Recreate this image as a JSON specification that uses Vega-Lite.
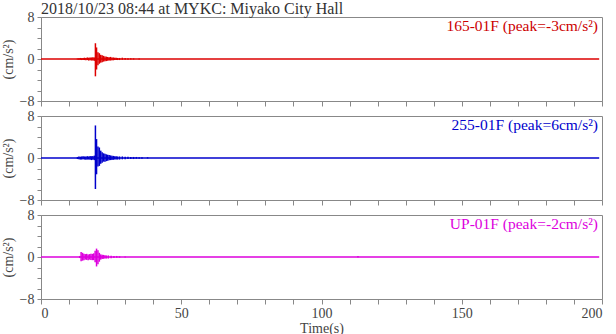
{
  "$schema": "https://vega.github.io/schema/vega-lite/v6.json",
  "padding": {"left": 0, "top": 0, "right": 3, "bottom": 2},
  "background": "white",
  "config": {
    "font": "Liberation Serif, serif",
    "view": {"stroke": "#888", "strokeWidth": 1},
    "axis": {"grid": false, "domainColor": "#888", "tickColor": "#888", "labelColor": "#444", "titleColor": "#444", "labelFont": "Liberation Serif, serif", "titleFont": "Liberation Serif, serif", "labelFontSize": 14, "titleFontSize": 14, "titleFontWeight": "normal", "labelOverlap": false}
  },
  "datasets": {
    "base": [
      {"ch": "165-01F", "t": 0, "t1": 199, "lo": 0},
      {"ch": "255-01F", "t": 0, "t1": 199, "lo": 0},
      {"ch": "UP-01F", "t": 0, "t1": 199, "lo": 0}
    ],
    "labels": [
      {"ch": "165-01F", "label": "165-01F (peak=-3cm/s²)"},
      {"ch": "255-01F", "label": "255-01F (peak=6cm/s²)"},
      {"ch": "UP-01F", "label": "UP-01F (peak=-2cm/s²)"}
    ],
    "env": [
      {"ch": "165-01F", "t": 13.0, "lo": -0.1, "hi": 0.1},
      {"ch": "165-01F", "t": 13.5, "lo": -0.15, "hi": 0.15},
      {"ch": "165-01F", "t": 14.0, "lo": -0.15, "hi": 0.2},
      {"ch": "165-01F", "t": 14.5, "lo": -0.2, "hi": 0.15},
      {"ch": "165-01F", "t": 15.0, "lo": -0.2, "hi": 0.2},
      {"ch": "165-01F", "t": 15.5, "lo": -0.2, "hi": 0.25},
      {"ch": "165-01F", "t": 16.0, "lo": -0.25, "hi": 0.2},
      {"ch": "165-01F", "t": 16.5, "lo": -0.2, "hi": 0.3},
      {"ch": "165-01F", "t": 17.0, "lo": -0.3, "hi": 0.25},
      {"ch": "165-01F", "t": 17.5, "lo": -0.25, "hi": 0.3},
      {"ch": "165-01F", "t": 18.0, "lo": -0.3, "hi": 0.3},
      {"ch": "165-01F", "t": 18.5, "lo": -0.3, "hi": 0.35},
      {"ch": "165-01F", "t": 19.0, "lo": -0.35, "hi": 0.3},
      {"ch": "165-01F", "t": 19.4, "lo": -3.3, "hi": 3.0},
      {"ch": "165-01F", "t": 19.8, "lo": -2.0, "hi": 2.2},
      {"ch": "165-01F", "t": 20.3, "lo": -1.2, "hi": 1.3},
      {"ch": "165-01F", "t": 20.8, "lo": -0.9, "hi": 1.1},
      {"ch": "165-01F", "t": 21.3, "lo": -0.7, "hi": 0.8},
      {"ch": "165-01F", "t": 21.8, "lo": -0.6, "hi": 0.7},
      {"ch": "165-01F", "t": 22.3, "lo": -0.5, "hi": 0.6},
      {"ch": "165-01F", "t": 22.8, "lo": -0.45, "hi": 0.5},
      {"ch": "165-01F", "t": 23.3, "lo": -0.4, "hi": 0.45},
      {"ch": "165-01F", "t": 23.8, "lo": -0.35, "hi": 0.4},
      {"ch": "165-01F", "t": 24.3, "lo": -0.3, "hi": 0.35},
      {"ch": "165-01F", "t": 24.8, "lo": -0.3, "hi": 0.4},
      {"ch": "165-01F", "t": 25.3, "lo": -0.25, "hi": 0.3},
      {"ch": "165-01F", "t": 25.8, "lo": -0.25, "hi": 0.3},
      {"ch": "165-01F", "t": 26.3, "lo": -0.2, "hi": 0.25},
      {"ch": "165-01F", "t": 26.8, "lo": -0.2, "hi": 0.25},
      {"ch": "165-01F", "t": 27.3, "lo": -0.2, "hi": 0.2},
      {"ch": "165-01F", "t": 28.0, "lo": -0.2, "hi": 0.2},
      {"ch": "165-01F", "t": 29.0, "lo": -0.15, "hi": 0.25},
      {"ch": "165-01F", "t": 30.0, "lo": -0.15, "hi": 0.2},
      {"ch": "165-01F", "t": 31.0, "lo": -0.15, "hi": 0.15},
      {"ch": "165-01F", "t": 32.0, "lo": -0.1, "hi": 0.15},
      {"ch": "165-01F", "t": 33.0, "lo": -0.1, "hi": 0.12},
      {"ch": "165-01F", "t": 35.0, "lo": -0.1, "hi": 0.1},
      {"ch": "255-01F", "t": 13.0, "lo": -0.2, "hi": 0.2},
      {"ch": "255-01F", "t": 13.5, "lo": -0.25, "hi": 0.3},
      {"ch": "255-01F", "t": 14.0, "lo": -0.3, "hi": 0.25},
      {"ch": "255-01F", "t": 14.5, "lo": -0.3, "hi": 0.3},
      {"ch": "255-01F", "t": 15.0, "lo": -0.25, "hi": 0.35},
      {"ch": "255-01F", "t": 15.5, "lo": -0.3, "hi": 0.3},
      {"ch": "255-01F", "t": 16.0, "lo": -0.35, "hi": 0.3},
      {"ch": "255-01F", "t": 16.5, "lo": -0.3, "hi": 0.35},
      {"ch": "255-01F", "t": 17.0, "lo": -0.3, "hi": 0.3},
      {"ch": "255-01F", "t": 17.5, "lo": -0.35, "hi": 0.4},
      {"ch": "255-01F", "t": 18.0, "lo": -0.4, "hi": 0.35},
      {"ch": "255-01F", "t": 18.5, "lo": -0.35, "hi": 0.4},
      {"ch": "255-01F", "t": 19.0, "lo": -0.4, "hi": 0.45},
      {"ch": "255-01F", "t": 19.4, "lo": -5.9, "hi": 6.2},
      {"ch": "255-01F", "t": 19.8, "lo": -3.1, "hi": 3.6},
      {"ch": "255-01F", "t": 20.3, "lo": -1.6, "hi": 2.2},
      {"ch": "255-01F", "t": 20.8, "lo": -1.5, "hi": 2.0},
      {"ch": "255-01F", "t": 21.3, "lo": -1.1, "hi": 1.4},
      {"ch": "255-01F", "t": 21.8, "lo": -0.9, "hi": 1.1},
      {"ch": "255-01F", "t": 22.3, "lo": -0.7, "hi": 0.9},
      {"ch": "255-01F", "t": 22.8, "lo": -0.7, "hi": 0.8},
      {"ch": "255-01F", "t": 23.3, "lo": -0.6, "hi": 0.7},
      {"ch": "255-01F", "t": 23.8, "lo": -0.5, "hi": 0.6},
      {"ch": "255-01F", "t": 24.3, "lo": -0.45, "hi": 0.55},
      {"ch": "255-01F", "t": 24.8, "lo": -0.4, "hi": 0.5},
      {"ch": "255-01F", "t": 25.3, "lo": -0.4, "hi": 0.45},
      {"ch": "255-01F", "t": 25.8, "lo": -0.35, "hi": 0.4},
      {"ch": "255-01F", "t": 26.3, "lo": -0.3, "hi": 0.35},
      {"ch": "255-01F", "t": 26.8, "lo": -0.3, "hi": 0.35},
      {"ch": "255-01F", "t": 27.3, "lo": -0.3, "hi": 0.3},
      {"ch": "255-01F", "t": 28.0, "lo": -0.3, "hi": 0.3},
      {"ch": "255-01F", "t": 29.0, "lo": -0.25, "hi": 0.3},
      {"ch": "255-01F", "t": 30.0, "lo": -0.25, "hi": 0.25},
      {"ch": "255-01F", "t": 31.0, "lo": -0.2, "hi": 0.25},
      {"ch": "255-01F", "t": 32.0, "lo": -0.2, "hi": 0.2},
      {"ch": "255-01F", "t": 33.0, "lo": -0.2, "hi": 0.2},
      {"ch": "255-01F", "t": 34.0, "lo": -0.15, "hi": 0.2},
      {"ch": "255-01F", "t": 35.0, "lo": -0.15, "hi": 0.15},
      {"ch": "255-01F", "t": 36.0, "lo": -0.15, "hi": 0.15},
      {"ch": "255-01F", "t": 38.0, "lo": -0.1, "hi": 0.15},
      {"ch": "UP-01F", "t": 13.8, "lo": -0.2, "hi": 0.2},
      {"ch": "UP-01F", "t": 14.3, "lo": -0.8, "hi": 0.95},
      {"ch": "UP-01F", "t": 14.8, "lo": -0.7, "hi": 0.8},
      {"ch": "UP-01F", "t": 15.3, "lo": -0.6, "hi": 0.6},
      {"ch": "UP-01F", "t": 15.8, "lo": -0.5, "hi": 0.55},
      {"ch": "UP-01F", "t": 16.3, "lo": -0.55, "hi": 0.6},
      {"ch": "UP-01F", "t": 16.8, "lo": -0.6, "hi": 0.5},
      {"ch": "UP-01F", "t": 17.3, "lo": -0.5, "hi": 0.55},
      {"ch": "UP-01F", "t": 17.8, "lo": -0.55, "hi": 0.6},
      {"ch": "UP-01F", "t": 18.3, "lo": -0.6, "hi": 0.6},
      {"ch": "UP-01F", "t": 18.8, "lo": -0.6, "hi": 0.7},
      {"ch": "UP-01F", "t": 19.3, "lo": -1.0, "hi": 1.2},
      {"ch": "UP-01F", "t": 19.8, "lo": -1.8, "hi": 1.6},
      {"ch": "UP-01F", "t": 20.3, "lo": -1.4, "hi": 1.3},
      {"ch": "UP-01F", "t": 20.8, "lo": -0.9, "hi": 0.8},
      {"ch": "UP-01F", "t": 21.3, "lo": -0.5, "hi": 0.5},
      {"ch": "UP-01F", "t": 21.8, "lo": -0.4, "hi": 0.45},
      {"ch": "UP-01F", "t": 22.3, "lo": -0.35, "hi": 0.4},
      {"ch": "UP-01F", "t": 22.8, "lo": -0.3, "hi": 0.35},
      {"ch": "UP-01F", "t": 23.3, "lo": -0.3, "hi": 0.3},
      {"ch": "UP-01F", "t": 24.0, "lo": -0.3, "hi": 0.3},
      {"ch": "UP-01F", "t": 25.0, "lo": -0.25, "hi": 0.25},
      {"ch": "UP-01F", "t": 26.0, "lo": -0.2, "hi": 0.2},
      {"ch": "UP-01F", "t": 27.0, "lo": -0.15, "hi": 0.2},
      {"ch": "UP-01F", "t": 28.0, "lo": -0.15, "hi": 0.15},
      {"ch": "UP-01F", "t": 30.0, "lo": -0.1, "hi": 0.1},
      {"ch": "UP-01F", "t": 113.0, "lo": -0.1, "hi": 0.2}
    ]
  },
  "vconcat": [
    {
      "width": 561, "height": 84,
      "title": {"text": "2018/10/23 08:44 at MYKC: Miyako City Hall", "anchor": "start", "frame": "group", "fontSize": 16, "fontWeight": "normal", "color": "#333", "offset": -7, "font": "Liberation Serif, serif"},
      "layer": [
        {
          "data": {"name": "base"},
          "transform": [{"filter": "datum.ch === '165-01F'"}],
          "mark": {"type": "rule", "color": "#dd0000", "strokeWidth": 1.5},
          "encoding": {
            "x": {"field": "t", "type": "quantitative", "scale": {"domain": [0, 200], "nice": false}, "axis": {"values": [0,10,20,30,40,50,60,70,80,90,100,110,120,130,140,150,160,170,180,190,200], "labels": false, "tickSize": 5, "title": null}},
            "x2": {"field": "t1"},
            "y": {"field": "lo", "type": "quantitative", "scale": {"domain": [-8, 8], "nice": false}, "axis": {"values": [-8,-6,-4,-2,0,2,4,6,8], "labelOverlap": false, "labelExpr": "datum.value % 8 === 0 ? datum.label : ''", "tickSize": 4, "labelPadding": 3, "title": "(cm/s²)", "titlePadding": 4}}
          }
        },
        {
          "data": {"name": "env"},
          "transform": [{"filter": "datum.ch === '165-01F'"}],
          "mark": {"type": "rule", "color": "#dd0000", "strokeWidth": 1.5},
          "encoding": {
            "x": {"field": "t", "type": "quantitative", "scale": {"domain": [0, 200], "nice": false}, "axis": {"values": [0,10,20,30,40,50,60,70,80,90,100,110,120,130,140,150,160,170,180,190,200], "labels": false, "tickSize": 5, "title": null}},
            "y": {"field": "lo", "type": "quantitative", "scale": {"domain": [-8, 8], "nice": false}, "axis": {"values": [-8,-6,-4,-2,0,2,4,6,8], "labelOverlap": false, "labelExpr": "datum.value % 8 === 0 ? datum.label : ''", "tickSize": 4, "labelPadding": 3, "title": "(cm/s²)", "titlePadding": 4}},
            "y2": {"field": "hi"}
          }
        },
        {
          "data": {"name": "labels"},
          "transform": [{"filter": "datum.ch === '165-01F'"}],
          "mark": {"type": "text", "align": "right", "baseline": "top", "dx": -4, "dy": 2, "fontSize": 15.5, "color": "#cc0000", "font": "Liberation Serif, serif"},
          "encoding": {
            "x": {"datum": 200, "type": "quantitative", "scale": {"domain": [0, 200], "nice": false}, "axis": {"values": [0,10,20,30,40,50,60,70,80,90,100,110,120,130,140,150,160,170,180,190,200], "labels": false, "tickSize": 5, "title": null}},
            "y": {"datum": 8, "type": "quantitative", "scale": {"domain": [-8, 8], "nice": false}, "axis": {"values": [-8,-6,-4,-2,0,2,4,6,8], "labelOverlap": false, "labelExpr": "datum.value % 8 === 0 ? datum.label : ''", "tickSize": 4, "labelPadding": 3, "title": "(cm/s²)", "titlePadding": 4}},
            "text": {"field": "label"}
          }
        }
      ]
    },
    {
      "width": 561, "height": 84,
      "layer": [
        {
          "data": {"name": "base"},
          "transform": [{"filter": "datum.ch === '255-01F'"}],
          "mark": {"type": "rule", "color": "#0000cc", "strokeWidth": 1.5},
          "encoding": {
            "x": {"field": "t", "type": "quantitative", "scale": {"domain": [0, 200], "nice": false}, "axis": {"values": [0,10,20,30,40,50,60,70,80,90,100,110,120,130,140,150,160,170,180,190,200], "labels": false, "tickSize": 5, "title": null}},
            "x2": {"field": "t1"},
            "y": {"field": "lo", "type": "quantitative", "scale": {"domain": [-8, 8], "nice": false}, "axis": {"values": [-8,-6,-4,-2,0,2,4,6,8], "labelOverlap": false, "labelExpr": "datum.value % 8 === 0 ? datum.label : ''", "tickSize": 4, "labelPadding": 3, "title": "(cm/s²)", "titlePadding": 4}}
          }
        },
        {
          "data": {"name": "env"},
          "transform": [{"filter": "datum.ch === '255-01F'"}],
          "mark": {"type": "rule", "color": "#0000cc", "strokeWidth": 1.5},
          "encoding": {
            "x": {"field": "t", "type": "quantitative", "scale": {"domain": [0, 200], "nice": false}, "axis": {"values": [0,10,20,30,40,50,60,70,80,90,100,110,120,130,140,150,160,170,180,190,200], "labels": false, "tickSize": 5, "title": null}},
            "y": {"field": "lo", "type": "quantitative", "scale": {"domain": [-8, 8], "nice": false}, "axis": {"values": [-8,-6,-4,-2,0,2,4,6,8], "labelOverlap": false, "labelExpr": "datum.value % 8 === 0 ? datum.label : ''", "tickSize": 4, "labelPadding": 3, "title": "(cm/s²)", "titlePadding": 4}},
            "y2": {"field": "hi"}
          }
        },
        {
          "data": {"name": "labels"},
          "transform": [{"filter": "datum.ch === '255-01F'"}],
          "mark": {"type": "text", "align": "right", "baseline": "top", "dx": -4, "dy": 2, "fontSize": 15.5, "color": "#0000cc", "font": "Liberation Serif, serif"},
          "encoding": {
            "x": {"datum": 200, "type": "quantitative", "scale": {"domain": [0, 200], "nice": false}, "axis": {"values": [0,10,20,30,40,50,60,70,80,90,100,110,120,130,140,150,160,170,180,190,200], "labels": false, "tickSize": 5, "title": null}},
            "y": {"datum": 8, "type": "quantitative", "scale": {"domain": [-8, 8], "nice": false}, "axis": {"values": [-8,-6,-4,-2,0,2,4,6,8], "labelOverlap": false, "labelExpr": "datum.value % 8 === 0 ? datum.label : ''", "tickSize": 4, "labelPadding": 3, "title": "(cm/s²)", "titlePadding": 4}},
            "text": {"field": "label"}
          }
        }
      ]
    },
    {
      "width": 561, "height": 84,
      "layer": [
        {
          "data": {"name": "base"},
          "transform": [{"filter": "datum.ch === 'UP-01F'"}],
          "mark": {"type": "rule", "color": "#dd00dd", "strokeWidth": 1.5},
          "encoding": {
            "x": {"field": "t", "type": "quantitative", "scale": {"domain": [0, 200], "nice": false}, "axis": {"values": [0,10,20,30,40,50,60,70,80,90,100,110,120,130,140,150,160,170,180,190,200], "labelOverlap": false, "labelExpr": "datum.value % 50 === 0 ? datum.label : ''", "tickSize": 5, "labelPadding": 2, "title": "Time(s)", "titlePadding": 1}},
            "x2": {"field": "t1"},
            "y": {"field": "lo", "type": "quantitative", "scale": {"domain": [-8, 8], "nice": false}, "axis": {"values": [-8,-6,-4,-2,0,2,4,6,8], "labelOverlap": false, "labelExpr": "datum.value % 8 === 0 ? datum.label : ''", "tickSize": 4, "labelPadding": 3, "title": "(cm/s²)", "titlePadding": 4}}
          }
        },
        {
          "data": {"name": "env"},
          "transform": [{"filter": "datum.ch === 'UP-01F'"}],
          "mark": {"type": "rule", "color": "#dd00dd", "strokeWidth": 1.5},
          "encoding": {
            "x": {"field": "t", "type": "quantitative", "scale": {"domain": [0, 200], "nice": false}, "axis": {"values": [0,10,20,30,40,50,60,70,80,90,100,110,120,130,140,150,160,170,180,190,200], "labelOverlap": false, "labelExpr": "datum.value % 50 === 0 ? datum.label : ''", "tickSize": 5, "labelPadding": 2, "title": "Time(s)", "titlePadding": 1}},
            "y": {"field": "lo", "type": "quantitative", "scale": {"domain": [-8, 8], "nice": false}, "axis": {"values": [-8,-6,-4,-2,0,2,4,6,8], "labelOverlap": false, "labelExpr": "datum.value % 8 === 0 ? datum.label : ''", "tickSize": 4, "labelPadding": 3, "title": "(cm/s²)", "titlePadding": 4}},
            "y2": {"field": "hi"}
          }
        },
        {
          "data": {"name": "labels"},
          "transform": [{"filter": "datum.ch === 'UP-01F'"}],
          "mark": {"type": "text", "align": "right", "baseline": "top", "dx": -4, "dy": 2, "fontSize": 15.5, "color": "#dd00dd", "font": "Liberation Serif, serif"},
          "encoding": {
            "x": {"datum": 200, "type": "quantitative", "scale": {"domain": [0, 200], "nice": false}, "axis": {"values": [0,10,20,30,40,50,60,70,80,90,100,110,120,130,140,150,160,170,180,190,200], "labelOverlap": false, "labelExpr": "datum.value % 50 === 0 ? datum.label : ''", "tickSize": 5, "labelPadding": 2, "title": "Time(s)", "titlePadding": 1}},
            "y": {"datum": 8, "type": "quantitative", "scale": {"domain": [-8, 8], "nice": false}, "axis": {"values": [-8,-6,-4,-2,0,2,4,6,8], "labelOverlap": false, "labelExpr": "datum.value % 8 === 0 ? datum.label : ''", "tickSize": 4, "labelPadding": 3, "title": "(cm/s²)", "titlePadding": 4}},
            "text": {"field": "label"}
          }
        }
      ]
    }
  ],
  "spacing": 15,
  "bounds": "flush"
}
